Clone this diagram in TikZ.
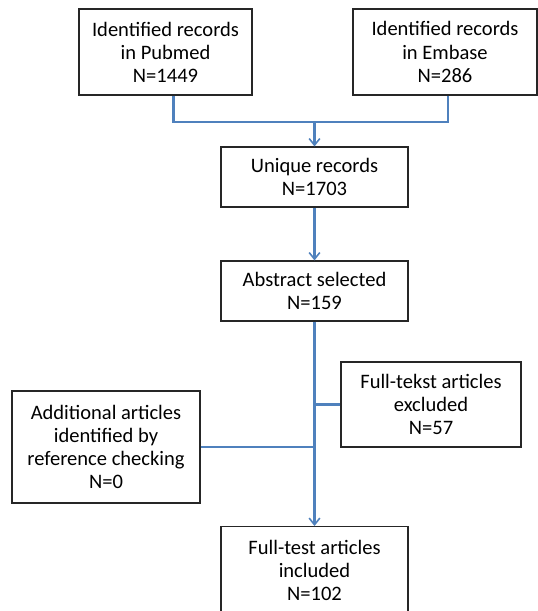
\documentclass[tikz,border=0pt]{standalone}
\usepackage{fontspec}
\setmainfont{Carlito}
\usetikzlibrary{arrows.meta}

\definecolor{flowblue}{RGB}{79,129,189}

\begin{document}
\begin{tikzpicture}[x=0.75pt, y=-0.75pt,
    box/.style={draw=black!85, line width=0.8pt, align=center, inner sep=0pt,
        font=\fontsize{15.4}{17.3}\selectfont},
    link/.style={draw=flowblue, line width=1.6pt},
    >={Straight Barb[length=5pt, width=8pt, line width=1.2pt]}]
    \useasboundingbox (0,0) rectangle (538,611);

    % sources
    \node[box, minimum width=173*0.75pt, minimum height=86*0.75pt] (pubmed) at (165.5,52)
        {Identified records\\in Pubmed\\N=1449};
    \node[box, minimum width=184*0.75pt, minimum height=86*0.75pt] (embase) at (445,52)
        {Identified records\\in Embase\\N=286};

    % screening
    \node[box, minimum width=187*0.75pt, minimum height=60*0.75pt] (unique) at (314.5,177)
        {Unique records\\N=1703};
    \node[box, minimum width=187*0.75pt, minimum height=60*0.75pt] (abstract) at (314.5,291)
        {Abstract selected\\N=159};

    % side boxes
    \node[box, minimum width=180*0.75pt, minimum height=85*0.75pt] (excluded) at (431,404.5)
        {Full-tekst articles\\excluded\\N=57};
    \node[box, minimum width=188*0.75pt, minimum height=112*0.75pt] (additional) at (106,447)
        {Additional articles\\identified by\\reference checking\\N=0};

    % result, cut off at the bottom edge
    \node[box, minimum width=187*0.75pt, minimum height=88*0.75pt, anchor=north] (included)
        at (314.5,526) {Full-test articles\\included\\N=102};

    \coordinate (merge) at (314.5,122);

    \draw[link] ([xshift=6pt]pubmed.south) |- (merge);
    \draw[link] ([xshift=2pt]embase.south) |- (merge);
    \draw[link, ->] (merge) -- (unique.north);
    \draw[link, ->] (unique) -- (abstract);
    \draw[link, ->] (abstract) -- (included);
    \draw[link] (excluded.west) -- (excluded.west -| abstract.south);
    \draw[link] (additional.east) -- (additional.east -| abstract.south);
\end{tikzpicture}
\end{document}
